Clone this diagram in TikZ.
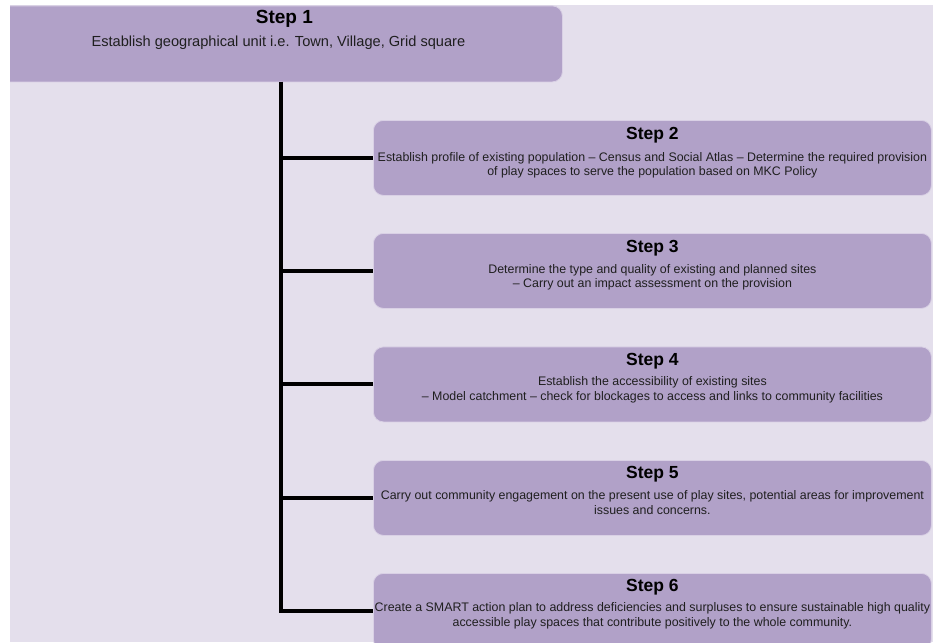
\documentclass[tikz,border=0pt]{standalone}
\usepackage{fontspec}
\setmainfont{Liberation Sans}
\definecolor{bg}{HTML}{E4DFEC}
\definecolor{boxfill}{HTML}{B1A1C8}
\definecolor{boxedge}{HTML}{D9D0E5}
\begin{document}
\begin{tikzpicture}[x=1pt,y=-1pt,
  stepbox/.style={draw=boxedge, line width=0.8pt, fill=boxfill, rounded corners=10pt, anchor=north west, inner sep=0pt, minimum width=558pt, minimum height=75pt},
  steptitle/.style={font=\fontsize{17.5}{20}\selectfont\bfseries, anchor=base, inner sep=0pt},
  stepbody/.style={font=\fontsize{12.4}{14.5}\selectfont, align=center, anchor=base, inner sep=0pt, text=black!88},
  link/.style={line width=4pt, black}]
\useasboundingbox (0,0) rectangle (933,642);
\fill[white] (0,0) rectangle (933,642);
\begin{scope}
\clip (10,5) rectangle (933,642);
\fill[bg] (10,5) rectangle (933,642);
% boxes
\node[stepbox, minimum width=572pt, minimum height=76pt] (s1) at (-10,5.5) {};
\node[stepbox] (s2) at (373,120) {};
\node[stepbox] (s3) at (373,233) {};
\node[stepbox] (s4) at (373,346.5) {};
\node[stepbox] (s5) at (373,460) {};
\node[stepbox, minimum height=76pt] (s6) at (373,573) {};
% texts
\node[steptitle, font=\fontsize{19}{22}\selectfont\bfseries] (t1) at ([xshift=8pt, yshift=-18.5pt]s1.north) {Step 1};
\node[stepbody, font=\fontsize{14.6}{17}\selectfont] (b1) at ([xshift=2pt, yshift=-40.5pt]s1.north) {Establish geographical unit i.e. Town, Village, Grid square};
\node[steptitle] (t2) at ([yshift=-19pt]s2.north) {Step 2};
\node[stepbody] (b2) at ([yshift=-55.5pt]s2.north) {Establish profile of existing population -- Census and Social Atlas -- Determine the required provision\\of play spaces to serve the population based on MKC Policy};
\node[steptitle] (t3) at ([yshift=-19pt]s3.north) {Step 3};
\node[stepbody] (b3) at ([yshift=-54.5pt]s3.north) {Determine the type and quality of existing and planned sites\\-- Carry out an impact assessment on the provision};
\node[steptitle] (t4) at ([yshift=-18.5pt]s4.north) {Step 4};
\node[stepbody] (b4) at ([yshift=-53.5pt]s4.north) {Establish the accessibility of existing sites\\-- Model catchment -- check for blockages to access and links to community facilities};
\node[steptitle] (t5) at ([yshift=-18.5pt]s5.north) {Step 5};
\node[stepbody] (b5) at ([yshift=-54pt]s5.north) {Carry out community engagement on the present use of play sites, potential areas for improvement\\issues and concerns.};
\node[steptitle] (t6) at ([yshift=-18.5pt]s6.north) {Step 6};
\node[stepbody] (b6) at ([yshift=-53pt]s6.north) {Create a SMART action plan to address deficiencies and surpluses to ensure sustainable high quality\\accessible play spaces that contribute positively to the whole community.};
% connectors
\coordinate (trunk) at (280.5,81.5);
\draw[link] (trunk) |- (s6.west);
\draw[link] (trunk |- s2.west) -- (s2.west);
\draw[link] (trunk |- s3.west) -- (s3.west);
\draw[link] (trunk |- s4.west) -- (s4.west);
\draw[link] (trunk |- s5.west) -- (s5.west);
\end{scope}
\end{tikzpicture}
\end{document}
